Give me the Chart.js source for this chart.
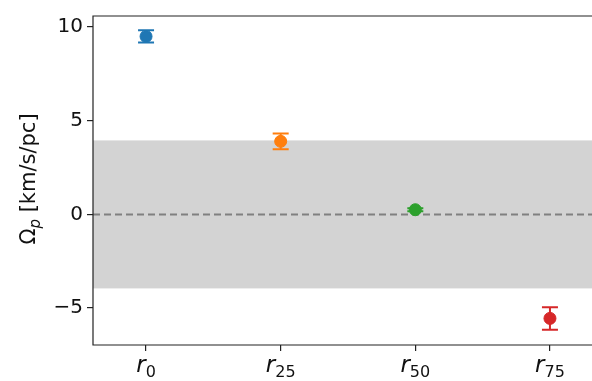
<!DOCTYPE html>
<html>
<head>
<meta charset="utf-8">
<script src="https://cdn.jsdelivr.net/npm/chart.js@4/dist/chart.umd.min.js"></script>
<style>
  html, body { margin: 0; padding: 0; background: #fff; overflow: hidden; }
  #wrap { position: relative; width: 592px; height: 381px; overflow: hidden; }
  #omegaChart { position: absolute; left: 0; top: 0; }
</style>
</head>
<body>
<div id="wrap"><canvas id="omegaChart" width="640" height="381"></canvas></div>
<script>
// data
const labelBase = ['r', 'r', 'r', 'r'];
const labelSub = ['0', '25', '50', '75'];
const omegaP = [9.5, 3.9, 0.25, -5.55];
const omegaErr = [0.33, 0.42, 0.08, 0.6];
const colors = ['#1f77b4', '#ff7f0e', '#2ca02c', '#d62728'];
const yTicks = [-5, 0, 5, 10];
const bandLimit = 3.95;

const FONT = '"DejaVu Sans", sans-serif';

// grey band + dashed zero line behind the points
const bandPlugin = {
  id: 'band',
  beforeDatasetsDraw(chart) {
    const ctx = chart.ctx, a = chart.chartArea, y = chart.scales.y;
    ctx.save();
    ctx.fillStyle = '#d3d3d3';
    const top = y.getPixelForValue(bandLimit), bot = y.getPixelForValue(-bandLimit);
    ctx.fillRect(a.left, top, a.right - a.left, bot - top);
    ctx.strokeStyle = '#808080';
    ctx.lineWidth = 2;
    ctx.setLineDash([7, 4]);
    const y0 = y.getPixelForValue(0);
    ctx.beginPath();
    ctx.moveTo(a.left, y0);
    ctx.lineTo(a.right, y0);
    ctx.stroke();
    ctx.restore();
  }
};

// error bars, axis frame, labels with subscripts
const decoPlugin = {
  id: 'deco',
  beforeDatasetsDraw(chart) {
    const ctx = chart.ctx, x = chart.scales.x, y = chart.scales.y;
    ctx.save();
    ctx.lineWidth = 2;
    omegaP.forEach((v, i) => {
      const px = x.getPixelForValue(i);
      const t = y.getPixelForValue(v + omegaErr[i]);
      const b = y.getPixelForValue(v - omegaErr[i]);
      ctx.strokeStyle = colors[i];
      ctx.beginPath();
      ctx.moveTo(px, t); ctx.lineTo(px, b);
      ctx.moveTo(px - 8, t); ctx.lineTo(px + 8, t);
      ctx.moveTo(px - 8, b); ctx.lineTo(px + 8, b);
      ctx.stroke();
    });
    ctx.restore();
  },
  afterDraw(chart) {
    const ctx = chart.ctx, a = chart.chartArea, x = chart.scales.x;
    ctx.save();
    ctx.strokeStyle = '#222';
    ctx.lineWidth = 1.2;
    ctx.beginPath();
    ctx.moveTo(a.right, a.top); ctx.lineTo(a.left, a.top);
    ctx.lineTo(a.left, a.bottom); ctx.lineTo(a.right, a.bottom);
    ctx.stroke();

    // x tick labels: italic r with subscript
    ctx.fillStyle = '#111';
    ctx.textBaseline = 'alphabetic';
    labelBase.forEach((b, i) => {
      const px = x.getPixelForValue(i);
      ctx.font = 'italic 23px ' + FONT;
      const wb = ctx.measureText(b).width;
      ctx.font = '16px ' + FONT;
      const ws = ctx.measureText(labelSub[i]).width;
      const start = px - (wb + ws) / 2;
      ctx.font = 'italic 23px ' + FONT;
      ctx.fillText(b, start, 372);
      ctx.font = '16px ' + FONT;
      ctx.fillText(labelSub[i], start + wb, 377);
    });

    // y axis title
    ctx.translate(35, 179);
    ctx.rotate(-Math.PI / 2);
    const parts = [['Ω', '21px ' + FONT, 0], ['p', 'italic 15px ' + FONT, 5], [' [km/s/pc]', '21px ' + FONT, 0]];
    let total = 0;
    parts.forEach(p => { ctx.font = p[1]; total += ctx.measureText(p[0]).width; });
    let cx = -total / 2;
    parts.forEach(p => {
      ctx.font = p[1];
      ctx.fillText(p[0], cx, p[2]);
      cx += ctx.measureText(p[0]).width;
    });
    ctx.restore();
  }
};

new Chart(document.getElementById('omegaChart'), {
  type: 'scatter',
  data: {
    datasets: [{
      data: omegaP.map((v, i) => ({ x: i, y: v })),
      backgroundColor: colors,
      borderColor: colors,
      pointRadius: 6,
      pointHoverRadius: 6
    }]
  },
  options: {
    responsive: false,
    animation: false,
    layout: { padding: { top: 15, right: 37, left: 0, bottom: 0 } },
    plugins: { legend: { display: false }, tooltip: { enabled: false } },
    scales: {
      x: {
        type: 'linear',
        min: -0.394,
        max: 3.394,
        afterBuildTicks(s) { s.ticks = labelBase.map((_, i) => ({ value: i })); },
        afterFit(s) { s.height = 36; },
        border: { display: false },
        grid: { drawOnChartArea: false, tickLength: 6, color: '#222', lineWidth: 1.2 },
        ticks: { callback: () => '', padding: 0 }
      },
      y: {
        min: -6.97,
        max: 10.59,
        afterBuildTicks(s) { s.ticks = yTicks.map(v => ({ value: v })); },
        afterFit(s) { s.width = 93; },
        border: { display: false },
        grid: { drawOnChartArea: false, tickLength: 6, color: '#222', lineWidth: 1.2 },
        ticks: {
          color: '#111',
          font: { family: FONT, size: 20 },
          padding: 4,
          callback: v => (v < 0 ? '\u2212' + Math.abs(v) : String(v))
        }
      }
    }
  },
  plugins: [bandPlugin, decoPlugin]
});
</script>
</body>
</html>
